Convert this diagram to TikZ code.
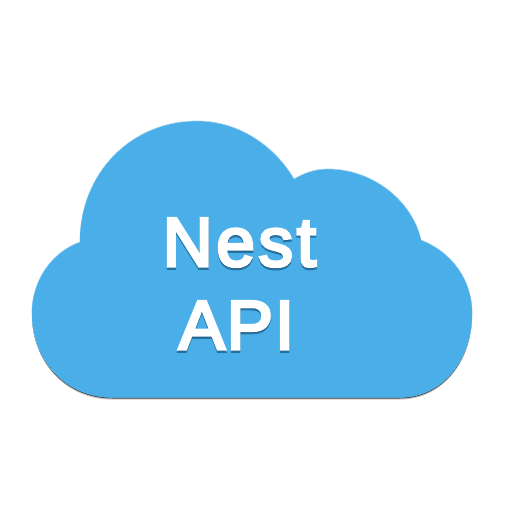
\documentclass[tikz,border=0pt]{standalone}
\usepackage{fontspec}
\setmainfont{Liberation Sans}
\newfontfamily\nestfont[LetterSpace=5.5,FakeBold=4.5]{Liberation Sans}
\newfontfamily\apifont[LetterSpace=3,FakeBold=4.5]{Liberation Sans}
\definecolor{cloudblue}{HTML}{4AAFE9}
\definecolor{cloudrim}{HTML}{A5D6F2}
\definecolor{textshade}{HTML}{0F4A6E}
\tikzset{
  cloudpath/.style={insert path={
    (112,397) -- (400,397)
    .. controls (442,397) and (472,360) .. (472,313)
    .. controls (472,280) and (452,252) .. (421,240)
    .. controls (412,200) and (372,169) .. (328,169)
    .. controls (315,169) and (304,173) .. (294,179)
    .. controls (274,145) and (238,121) .. (197,121)
    .. controls (132,121) and (80,172) .. (80,242)
    .. controls (52,252) and (32,280) .. (32,313)
    .. controls (32,360) and (66,397) .. (112,397) -- cycle}},
  nesttext/.style={font=\nestfont\fontsize{69}{69}\selectfont, inner sep=0pt, anchor=base},
  apitext/.style={font=\apifont\fontsize{69}{69}\selectfont, inner sep=0pt, anchor=base},
}
\begin{document}
\begin{tikzpicture}[x=1pt,y=-1pt]
\useasboundingbox (0,0) rectangle (512,512);
\fill[white] (0,0) rectangle (512,512);
% soft shadow below the cloud
\fill[black,opacity=.2,yshift=-2.6pt,cloudpath];
\fill[black,opacity=.65,yshift=-1.5pt,cloudpath];
% cloud body with its light rim
\path[fill=cloudblue,draw=cloudrim,line width=.7pt,cloudpath];
\fill[cloudblue,yshift=-.6pt,cloudpath];
% text shadows
\node[nesttext,text=textshade,opacity=.6] at (239.5,268.2) {Nest};
\node[apitext,text=textshade,opacity=.6] at (236.5,351.2) {API};
% text
\node[nesttext,text=white] (nest) at (239.5,266) {Nest};
\node[apitext,text=white] (api) at (236.5,349) {API};
\end{tikzpicture}
\end{document}
